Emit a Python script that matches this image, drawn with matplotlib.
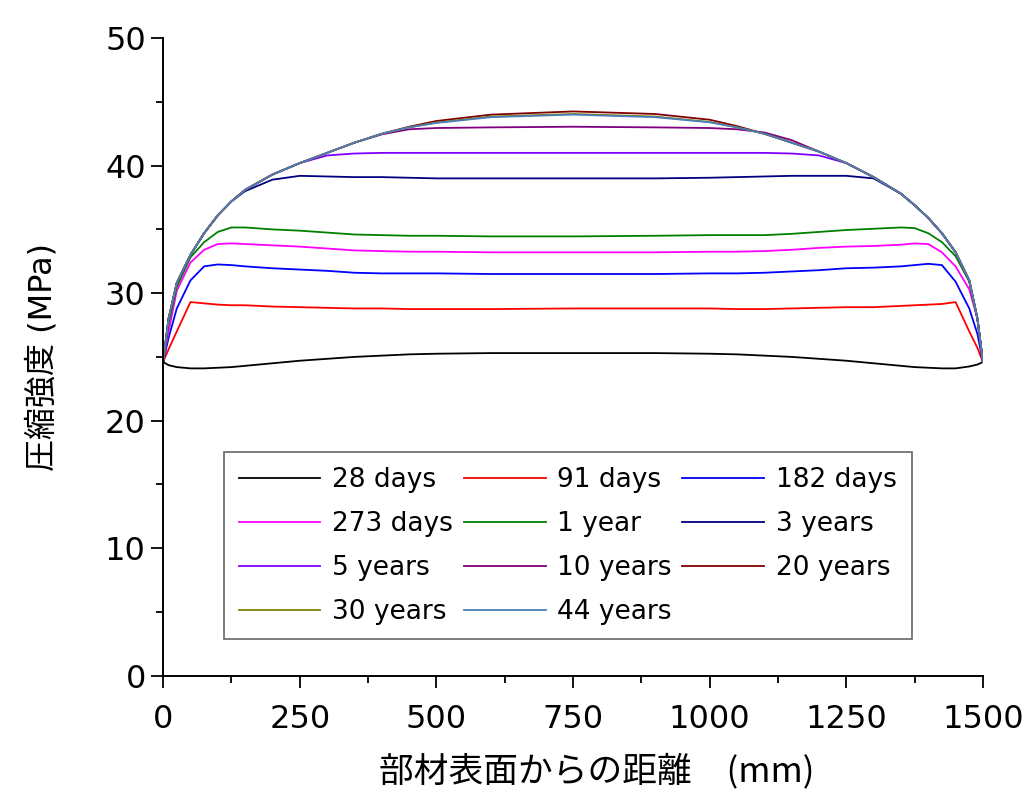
import matplotlib
matplotlib.use('Agg')
import matplotlib.pyplot as plt
from matplotlib.ticker import MultipleLocator

plt.rcParams['font.family'] = ['DejaVu Sans', 'Noto Sans CJK JP']

# distance from member surface (mm)
x = [0, 10, 25, 50, 75, 100, 125, 150, 200, 250, 300, 350, 400, 450, 500,
     600, 750, 900,
     1000, 1050, 1100, 1150, 1200, 1250, 1300, 1350, 1375, 1400, 1425, 1450, 1475, 1490, 1500]

# compressive strength (MPa)
d28 = [24.6, 24.35, 24.2, 24.1, 24.1, 24.15, 24.2, 24.3, 24.5, 24.7, 24.85, 25.0, 25.1, 25.2, 25.25,
       25.3, 25.3, 25.3,
       25.25, 25.2, 25.1, 25.0, 24.85, 24.7, 24.5, 24.3, 24.2, 24.15, 24.1, 24.1, 24.25, 24.4, 24.6]
d91 = [24.6, 25.6, 27.0, 29.3, 29.2, 29.1, 29.05, 29.05, 28.95, 28.9, 28.85, 28.8, 28.8, 28.75, 28.75,
       28.75, 28.8, 28.8,
       28.8, 28.75, 28.75, 28.8, 28.85, 28.9, 28.9, 29.0, 29.05, 29.1, 29.15, 29.3, 27.0, 25.7, 24.6]
d182 = [24.6, 26.5, 28.8, 31.0, 32.1, 32.25, 32.2, 32.1, 31.95, 31.85, 31.75, 31.6, 31.55, 31.55, 31.55,
        31.5, 31.5, 31.5,
        31.55, 31.55, 31.6, 31.7, 31.8, 31.95, 32.0, 32.1, 32.2, 32.3, 32.2, 30.9, 28.8, 26.8, 24.6]
d273 = [24.6, 27.0, 30.2, 32.4, 33.4, 33.85, 33.9, 33.85, 33.75, 33.65, 33.5, 33.35, 33.3, 33.25, 33.25,
        33.2, 33.2, 33.2,
        33.25, 33.25, 33.3, 33.4, 33.55, 33.65, 33.7, 33.8, 33.9, 33.85, 33.2, 32.1, 30.3, 28.0, 24.6]
y1 = [24.6, 27.6, 30.5, 32.8, 34.0, 34.8, 35.15, 35.15, 35.0, 34.9, 34.75, 34.6, 34.55, 34.5, 34.5,
      34.45, 34.45, 34.5,
      34.55, 34.55, 34.55, 34.65, 34.8, 34.95, 35.05, 35.15, 35.1, 34.7, 34.0, 32.9, 30.9, 28.0, 24.6]
y3 = [24.6, 28.0, 30.8, 33.0, 34.7, 36.1, 37.2, 38.0, 38.9, 39.2, 39.15, 39.1, 39.1, 39.05, 39.0,
      39.0, 39.0, 39.0,
      39.05, 39.1, 39.15, 39.2, 39.2, 39.2, 39.0, 37.8, 36.9, 35.9, 34.7, 33.2, 31.0, 28.0, 24.6]
y5 = [24.6, 28.0, 30.8, 33.0, 34.7, 36.1, 37.2, 38.1, 39.3, 40.2, 40.8, 40.95, 41.0, 41.0, 41.0,
      41.0, 41.0, 41.0,
      41.0, 41.0, 41.0, 40.95, 40.8, 40.2, 39.1, 37.8, 36.9, 35.9, 34.7, 33.2, 31.0, 28.0, 24.6]
y10 = [24.6, 28.0, 30.8, 33.0, 34.7, 36.1, 37.2, 38.1, 39.3, 40.2, 41.0, 41.8, 42.45, 42.85, 42.95,
       43.0, 43.05, 43.0,
       42.95, 42.85, 42.6, 42.0, 41.1, 40.2, 39.1, 37.8, 36.9, 35.9, 34.7, 33.2, 31.0, 28.0, 24.6]
y20 = [24.6, 28.0, 30.8, 33.0, 34.7, 36.1, 37.2, 38.1, 39.3, 40.2, 41.0, 41.8, 42.5, 43.05, 43.5,
       44.0, 44.25, 44.05,
       43.6, 43.1, 42.5, 41.8, 41.1, 40.2, 39.1, 37.8, 36.9, 35.9, 34.7, 33.2, 31.0, 28.0, 24.6]
y30 = [24.6, 28.0, 30.8, 33.0, 34.7, 36.1, 37.2, 38.1, 39.3, 40.2, 41.0, 41.8, 42.5, 43.0, 43.38,
       43.85, 44.05, 43.85,
       43.42, 43.0, 42.5, 41.8, 41.1, 40.2, 39.1, 37.8, 36.9, 35.9, 34.7, 33.2, 31.0, 28.0, 24.6]
y44 = [24.6, 28.0, 30.8, 33.0, 34.7, 36.1, 37.2, 38.1, 39.3, 40.2, 41.0, 41.8, 42.5, 43.0, 43.35,
       43.8, 44.0, 43.8,
       43.4, 43.0, 42.5, 41.8, 41.1, 40.2, 39.1, 37.8, 36.9, 35.9, 34.7, 33.2, 31.0, 28.0, 24.6]

labels = ['28 days', '91 days', '182 days', '273 days', '1 year', '3 years',
          '5 years', '10 years', '20 years', '30 years', '44 years']
series = [d28, d91, d182, d273, y1, y3, y5, y10, y20, y30, y44]
colors = ['black', '#ff0000', '#0000ff', '#ff00ff', '#008000', '#000080',
          '#8000ff', '#800080', '#800000', '#808000', '#4a7ebb']

fig = plt.figure(figsize=(10.26, 7.94), dpi=100)
ax = fig.add_axes([0.159, 0.149, 0.799, 0.803])

lines = []
for vals, lab, col in zip(series, labels, colors):
    ln, = ax.plot(x, vals, color=col, lw=1.3, label=lab)
    lines.append(ln)

ax.set_xlim(0, 1500)
ax.set_ylim(0, 50)
ax.xaxis.set_major_locator(MultipleLocator(250))
ax.xaxis.set_minor_locator(MultipleLocator(125))
ax.yaxis.set_major_locator(MultipleLocator(10))
ax.yaxis.set_minor_locator(MultipleLocator(5))

for s in ['top', 'right']:
    ax.spines[s].set_visible(False)
for s in ['left', 'bottom']:
    ax.spines[s].set_linewidth(1.4)

ax.tick_params(which='major', direction='out', length=8.5, width=1.3, labelsize=23)
ax.tick_params(which='minor', direction='out', length=5, width=1.3)
ax.tick_params(axis='y', pad=4)
ax.tick_params(axis='x', pad=12)

ax.set_xlabel('部材表面からの距離\u3000(mm)', fontsize=25, family='Noto Sans CJK JP')
ax.xaxis.set_label_coords(0.529, -0.122)
ax.set_ylabel('圧縮強度 (MPa)', fontsize=23)
ax.yaxis.set_label_coords(-0.128, 0.5)

# legend is filled row by row in the original, matplotlib fills by column
order = [0, 3, 6, 9, 1, 4, 7, 10, 2, 5, 8]
leg = ax.legend([lines[i] for i in order], [labels[i] for i in order],
                ncol=3, loc='lower left', bbox_to_anchor=(0.0744, 0.057),
                borderaxespad=0, fontsize=19, handlelength=3.1, handletextpad=0.45,
                columnspacing=0.4, labelspacing=0.68, borderpad=0.55,
                fancybox=False, framealpha=1, edgecolor='#666666')
leg.get_frame().set_linewidth(1.2)

fig.savefig('out.png', dpi=100)
